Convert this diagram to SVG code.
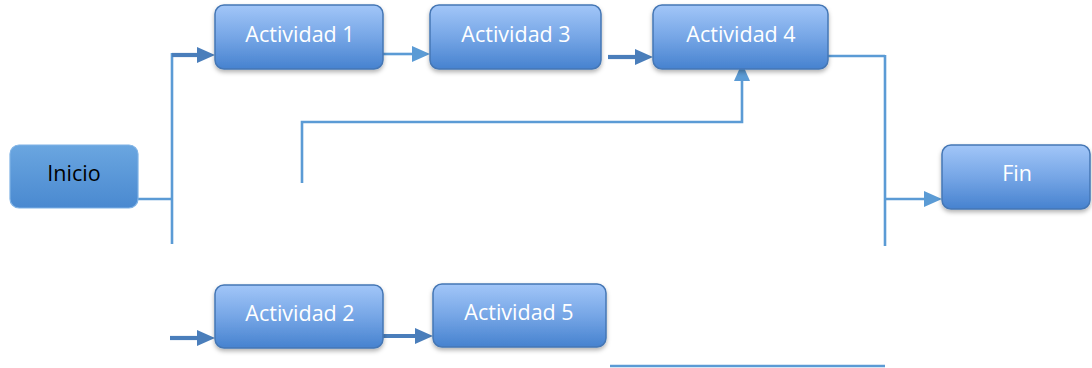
<svg xmlns="http://www.w3.org/2000/svg" width="1092" height="368" viewBox="0 0 1092 368">
  <style>
    .box { fill: url(#gradAct); stroke: #4577b5; stroke-width: 1.5; filter: url(#shadow); }
    .start { fill: url(#gradStart); stroke: #7fb2e5; stroke-width: 1.2; }
    .label { font-family: "Open Sans", "Liberation Sans", sans-serif; font-size: 21.5px; fill: #ffffff; text-anchor: middle; }
    .dark { fill: #000000; }
    .thin { stroke: #5b9bd5; stroke-width: 2.6; fill: none; }
    .thick { stroke: #4a7ebb; stroke-width: 4.2; fill: none; }
  </style>
  <defs>
    <linearGradient id="gradAct" x1="0" y1="0" x2="0" y2="1">
      <stop offset="0" stop-color="#a2c6f8"/>
      <stop offset="0.5" stop-color="#76a6e6"/>
      <stop offset="1" stop-color="#4682cf"/>
    </linearGradient>
    <linearGradient id="gradStart" x1="0" y1="0" x2="0" y2="1">
      <stop offset="0" stop-color="#6aa6e0"/>
      <stop offset="1" stop-color="#4a89d0"/>
    </linearGradient>
    <filter id="shadow" x="-10%" y="-10%" width="120%" height="140%">
      <feDropShadow dx="0" dy="2.5" stdDeviation="2" flood-color="#000000" flood-opacity="0.3"/>
    </filter>
    <!-- arrowheads start at the path end and extend 18px beyond it -->
    <marker id="arrowThin" markerUnits="userSpaceOnUse" viewBox="0 0 18 16" markerWidth="18" markerHeight="16" refX="1" refY="8" orient="auto" overflow="visible">
      <path d="M0,0 L18,8 L0,16 Z" fill="#5b9bd5"/>
    </marker>
    <marker id="arrowThick" markerUnits="userSpaceOnUse" viewBox="0 0 18 16" markerWidth="18" markerHeight="16" refX="1" refY="8" orient="auto" overflow="visible">
      <path d="M0,0 L18,8 L0,16 Z" fill="#4a7ebb"/>
    </marker>
  </defs>

  <!-- connectors -->
  <g id="connectors">
    <!-- Inicio split to the two branches -->
    <path class="thin" d="M138,199 H172"/>
    <path class="thin" d="M172,53 V244"/>
    <path class="thick" d="M172,55 H198" marker-end="url(#arrowThick)"/>
    <!-- Actividad 1 to Actividad 3 -->
    <path class="thin" d="M383,54 H413" marker-end="url(#arrowThin)"/>
    <!-- Actividad 3 to Actividad 4 -->
    <path class="thick" d="M608,57 H636" marker-end="url(#arrowThick)"/>
    <!-- feed into Actividad 4 from below -->
    <path class="thin" d="M302,183 V122 H742 V80" marker-end="url(#arrowThin)"/>
    <!-- Actividad 4 to Fin -->
    <path class="thin" d="M828,56 H885"/>
    <path class="thin" d="M885,55 V246"/>
    <path class="thin" d="M885,199 H925" marker-end="url(#arrowThin)"/>
    <!-- lower branch -->
    <path class="thick" d="M170,338 H198" marker-end="url(#arrowThick)"/>
    <path class="thick" d="M383,336 H416" marker-end="url(#arrowThick)"/>
    <path class="thin" d="M610,366 H885"/>
  </g>

  <g id="inicio">
    <rect class="start" x="10" y="145" width="128" height="63" rx="9"/>
    <text class="label dark" x="74" y="181">Inicio</text>
  </g>
  <g id="actividad1">
    <rect class="box" x="215" y="5" width="168" height="64" rx="9"/>
    <text class="label" x="300" y="42">Actividad 1</text>
  </g>
  <g id="actividad3">
    <rect class="box" x="430" y="5" width="171" height="64" rx="9"/>
    <text class="label" x="516" y="42">Actividad 3</text>
  </g>
  <g id="actividad4">
    <rect class="box" x="653" y="5" width="175" height="64" rx="9"/>
    <text class="label" x="741" y="42">Actividad 4</text>
  </g>
  <g id="fin">
    <rect class="box" x="942" y="145" width="148" height="64" rx="9"/>
    <text class="label" x="1017" y="181">Fin</text>
  </g>
  <g id="actividad2">
    <rect class="box" x="215" y="285" width="168" height="63" rx="9"/>
    <text class="label" x="300" y="321">Actividad 2</text>
  </g>
  <g id="actividad5">
    <rect class="box" x="433" y="284" width="173" height="63" rx="9"/>
    <text class="label" x="519" y="320">Actividad 5</text>
  </g>
</svg>
